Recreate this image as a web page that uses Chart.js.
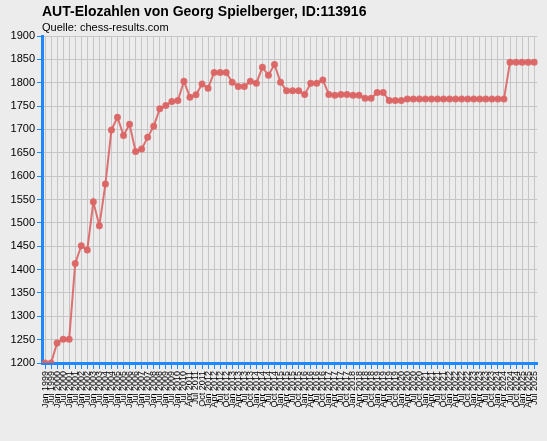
<!DOCTYPE html>
<html><head><meta charset="utf-8">
<script src="https://cdn.jsdelivr.net/npm/chart.js@4"></script>
<style>html,body{margin:0;padding:0;background:#ececec;}#w{width:547px;height:441px;}</style>
</head><body><div id="w"><canvas id="c"></canvas></div>
<script>
const categories = [];
for (let y = 1999; y <= 2010; y++) { categories.push('Jan ' + y); categories.push('Jul ' + y); }
const qMonths = ['Jan','Apr','Jul','Oct'];
{ let y = 2011, q = 1; while (categories.length < 82) { categories.push(qMonths[q] + ' ' + y); q++; if (q === 4) { q = 0; y++; } } }
const elo = [1200,1200,1243,1251,1251,1413,1451,1442,1545,1494,1583,1699,1726,1687,1711,1653,1658,1683,1707,1744,1751,1760,1762,1803,1769,1774,1797,1788,1822,1822,1822,1801,1792,1792,1803,1799,1833,1816,1839,1801,1783,1783,1783,1775,1799,1799,1806,1775,1773,1775,1775,1773,1773,1767,1767,1779,1779,1762,1762,1762,1765,1765,1765,1765,1765,1765,1765,1765,1765,1765,1765,1765,1765,1765,1765,1765,1765,1844,1844,1844,1844,1844];
const yMin = 1200, yMax = 1900, yStep = 50;
const titleText = 'AUT-Elozahlen von Georg Spielberger, ID:113916';
const subText = 'Quelle: chess-results.com';
const headPlugin = { id: 'head', afterDraw(ch) { const c = ch.ctx; c.save(); c.fillStyle = '#000'; c.textBaseline = 'alphabetic';
  c.font = 'bold 14px Arial, "Liberation Sans"'; c.fillText(titleText, 42, 16);
  c.font = '11px Arial, "Liberation Sans"'; c.fillText(subText, 42, 31); c.restore(); } };
new Chart(document.getElementById('c'), {
  type: 'line',
  data: { labels: categories, datasets: [{ data: elo, borderColor: 'rgba(220,100,100,0.9)', backgroundColor: 'rgba(220,100,100,0.9)', borderWidth: 2, pointRadius: 2.5, pointHoverRadius: 2.5, tension: 0 }] },
  plugins: [headPlugin],
  options: {
    responsive: true, maintainAspectRatio: false, animation: false,
    layout: { padding: { left: 0, right: 2, top: 36, bottom: 8 } },
    plugins: { legend: { display: false }, tooltip: { enabled: false } },
    scales: {
      x: { offset: true, grid: { color: '#c6c6c6', tickColor: '#1e88ff', tickLength: 6 }, border: { color: '#1e88ff', width: 3 },
        afterFit(s) { s.height = 70; },
        ticks: { autoSkip: false, maxRotation: 90, minRotation: 90, color: '#000', padding: 2, font: { family: 'Arial, "Liberation Sans"', size: 9 } } },
      y: { min: yMin, max: yMax, grid: { color: '#c6c6c6', tickColor: '#1e88ff', tickLength: 5 }, border: { color: '#1e88ff', width: 3 },
        afterFit(s) { s.width = 42; },
        ticks: { stepSize: yStep, color: '#000', padding: 2, callback: v => String(v), font: { family: 'Arial, "Liberation Sans"', size: 11 } } }
    }
  }
});
</script></body></html>
